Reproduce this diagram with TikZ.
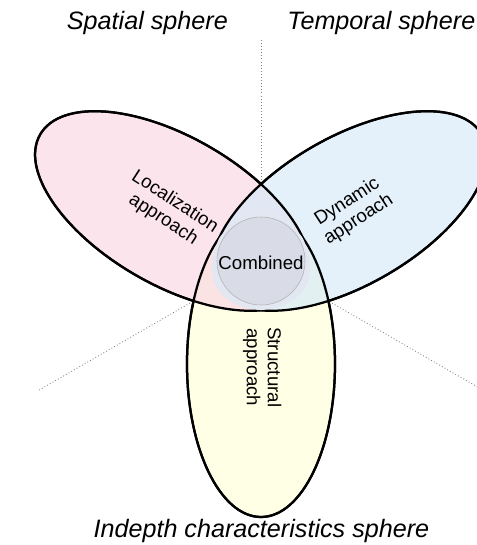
\documentclass[tikz,border=0pt]{standalone}
\usepackage{fontspec}
\setmainfont{Liberation Sans}
\definecolor{pinkfill}{RGB}{250,216,228}
\definecolor{bluefill}{RGB}{216,234,248}
\definecolor{yellowfill}{RGB}{255,255,230}
\definecolor{combfill}{RGB}{212,212,224}
\begin{document}
\begin{tikzpicture}[
  petal/.style={line width=1.6pt},
  petalfill/.style={fill opacity=0.7},
  ray/.style={gray,line width=0.6pt,dash pattern=on 0.6pt off 1.6pt},
  sphere/.style={font=\fontsize{17.9}{21}\selectfont\itshape,anchor=base},
  approach/.style={font=\fontsize{13.3}{15}\selectfont,align=center},
  pinkrot/.style={rotate around={-30:(pc)}},
  bluerot/.style={rotate around={30:(bc)}}]
\useasboundingbox (-6.525,-7.075) rectangle (5.4,6.55);
\clip (-6.525,-7.075) rectangle (5.4,6.55);
\coordinate (pc) at (150:2.55);
\coordinate (bc) at (30:2.55);
\coordinate (yc) at (270:2.55);
\draw[ray] (90:1.975) -- (90:5.6);
\draw[ray] (210:1.975) -- (210:6.45);
\draw[ray] (330:1.975) -- (330:6.45);
\fill[yellowfill] (yc) ellipse (1.85 and 3.825);
\fill[pinkfill,petalfill,pinkrot] (pc) ellipse (3.825 and 1.85);
\fill[bluefill,petalfill,bluerot] (bc) ellipse (3.825 and 1.85);
\filldraw[fill=combfill,fill opacity=0.6,draw=gray!60,line width=0.4pt] (0,0.025) circle (1.1);
% each outline is hidden where the other two overlap
\begin{scope}[even odd rule]
\clip[pinkrot] (-20,-20) rectangle (20,20) (pc) ellipse (3.825 and 1.85);
\draw[petal] (yc) ellipse (1.85 and 3.825);
\draw[petal,bluerot] (bc) ellipse (3.825 and 1.85);
\end{scope}
\begin{scope}[even odd rule]
\clip[bluerot] (-20,-20) rectangle (20,20) (bc) ellipse (3.825 and 1.85);
\draw[petal] (yc) ellipse (1.85 and 3.825);
\draw[petal,pinkrot] (pc) ellipse (3.825 and 1.85);
\end{scope}
\begin{scope}[even odd rule]
\clip (-20,-20) rectangle (20,20) (yc) ellipse (1.85 and 3.825);
\draw[petal,pinkrot] (pc) ellipse (3.825 and 1.85);
\draw[petal,bluerot] (bc) ellipse (3.825 and 1.85);
\end{scope}
\node[sphere] (spatial) at (-2.84,5.82) {Spatial sphere};
\node[sphere] (temporal) at (3.01,5.82) {Temporal sphere};
\node[sphere] (indepth) at (0.01,-6.875) {Indepth characteristics sphere};
\node[approach,rotate=-33] (local) at (-2.3,1.28) {Localization\\approach};
\node[approach,rotate=33] (dynamic) at (2.3,1.28) {Dynamic\\approach};
\node[approach,rotate=-90] (struct) at (0.03,-2.63) {Structural\\approach};
\node[approach,anchor=base] (comb) at (0,-0.2) {Combined};
\end{tikzpicture}
\end{document}
